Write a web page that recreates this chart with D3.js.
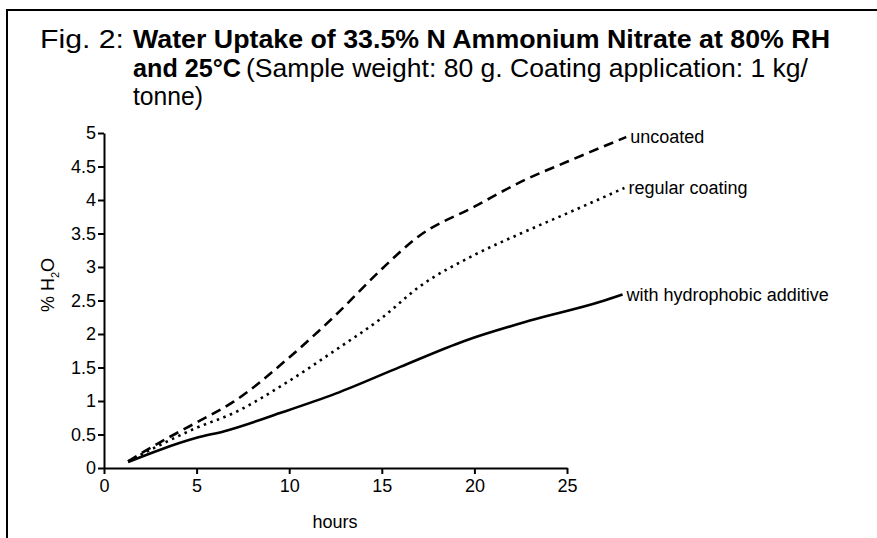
<!DOCTYPE html>
<html><head><meta charset="utf-8">
<script src="https://cdn.jsdelivr.net/npm/d3@7"></script>
<style>
html,body{margin:0;padding:0;background:#fff;}
svg{display:block;}
text{font-family:"Liberation Sans",Arial,Helvetica,sans-serif;fill:#000;}
</style></head>
<body>
<svg id="chart" width="877" height="538"></svg>
<script>
const xTicks = [0, 5, 10, 15, 20, 25];
const yTicks = [0, 0.5, 1, 1.5, 2, 2.5, 3, 3.5, 4, 4.5, 5];
const seriesNames = ["uncoated", "regular coating", "with hydrophobic additive"];
const uncoatedHours = [1.3, 3, 5, 7, 10, 12.5, 15, 17, 20, 22.5, 25, 28.2];
const uncoatedValues = [0.1, 0.38, 0.68, 0.99, 1.65, 2.28, 2.97, 3.46, 3.9, 4.27, 4.57, 4.94];
const regularHours = [1.3, 3, 5, 7, 10, 12.5, 15, 17, 20, 22.5, 25, 28.1];
const regularValues = [0.1, 0.34, 0.6, 0.82, 1.3, 1.76, 2.24, 2.7, 3.18, 3.5, 3.8, 4.18];
const hydroHours = [1.3, 3, 5, 6.5, 9.5, 12.5, 16, 19.5, 23, 26.8, 28];
const hydroValues = [0.09, 0.27, 0.45, 0.55, 0.82, 1.11, 1.51, 1.9, 2.2, 2.48, 2.59];

const svg = d3.select("#chart");
const x = d3.scaleLinear().domain([0, 25]).range([104, 567]);
const y = d3.scaleLinear().domain([0, 5]).range([468, 133]);

// frame
svg.append("path").attr("d", "M7,538 L7,10 L877,10").attr("fill", "none").attr("stroke", "#000").attr("stroke-width", 2);

// title
const TF = "26px";
svg.append("text").attr("x", 40).attr("y", 48).style("font-size", TF).attr("textLength", 84).attr("lengthAdjust", "spacingAndGlyphs").text("Fig. 2:");
svg.append("text").attr("x", 133).attr("y", 48).style("font-size", TF).style("font-weight", "bold")
  .attr("textLength", 697).attr("lengthAdjust", "spacingAndGlyphs").text("Water Uptake of 33.5% N Ammonium Nitrate at 80% RH");
const b2 = svg.append("text").attr("x", 133).attr("y", 77).style("font-size", TF).style("font-weight", "bold")
  .attr("textLength", 108).attr("lengthAdjust", "spacingAndGlyphs").text("and 25°C");
svg.append("text").attr("x", 246).attr("y", 77).style("font-size", TF)
  .attr("textLength", 562).attr("lengthAdjust", "spacingAndGlyphs").text("(Sample weight: 80 g. Coating application: 1 kg/");
svg.append("text").attr("x", 133).attr("y", 105).style("font-size", TF)
  .attr("textLength", 70).attr("lengthAdjust", "spacingAndGlyphs").text("tonne)");

// axes
const xAxis = svg.append("g").attr("transform", "translate(0,468)")
  .call(d3.axisBottom(x).tickValues(xTicks).tickSize(6).tickSizeOuter(0).tickPadding(5).tickFormat(d3.format("d")));
const yAxis = svg.append("g").attr("transform", "translate(104,0)")
  .call(d3.axisLeft(y).tickValues(yTicks).tickSize(6).tickSizeOuter(0).tickPadding(2).tickFormat(d => String(d)));
[xAxis, yAxis].forEach(a => {
  a.selectAll("path.domain").attr("stroke", "#000").attr("stroke-width", 2);
  a.selectAll(".tick line").attr("stroke", "#000").attr("stroke-width", 2);
  a.selectAll(".tick text").style("font-family", "'Liberation Sans',Arial,sans-serif").style("font-size", "18px").attr("fill", "#000");
});

// axis titles
svg.append("text").attr("x", 335).attr("y", 528).attr("text-anchor", "middle").style("font-size", "18px").text("hours");
const yl = svg.append("text").attr("transform", "translate(54,285) rotate(-90)").attr("text-anchor", "middle").style("font-size", "18px");
yl.append("tspan").text("% H");
yl.append("tspan").attr("dy", 5).style("font-size", "11px").text("2");
yl.append("tspan").attr("dy", -5).text("O");

// lines
const line = d3.line().x(d => x(d[0])).y(d => y(d[1])).curve(d3.curveMonotoneX);
const series = [
  {name: seriesNames[0], h: uncoatedHours, v: uncoatedValues, dash: "10,6"},
  {name: seriesNames[1], h: regularHours, v: regularValues, dash: "2.5,4.5"},
  {name: seriesNames[2], h: hydroHours, v: hydroValues, dash: null}
];
series.forEach(s => {
  const pts = s.h.map((h, i) => [h, s.v[i]]);
  svg.append("path").datum(pts).attr("d", line).attr("fill", "none").attr("stroke", "#000")
    .attr("stroke-width", 2.6).attr("stroke-dasharray", s.dash);
  const last = pts[pts.length - 1];
  svg.append("text").attr("x", x(last[0]) + 4).attr("y", y(last[1])).attr("dy", "0.35em")
    .style("font-size", "18px").text(s.name);
});
</script>
</body></html>
